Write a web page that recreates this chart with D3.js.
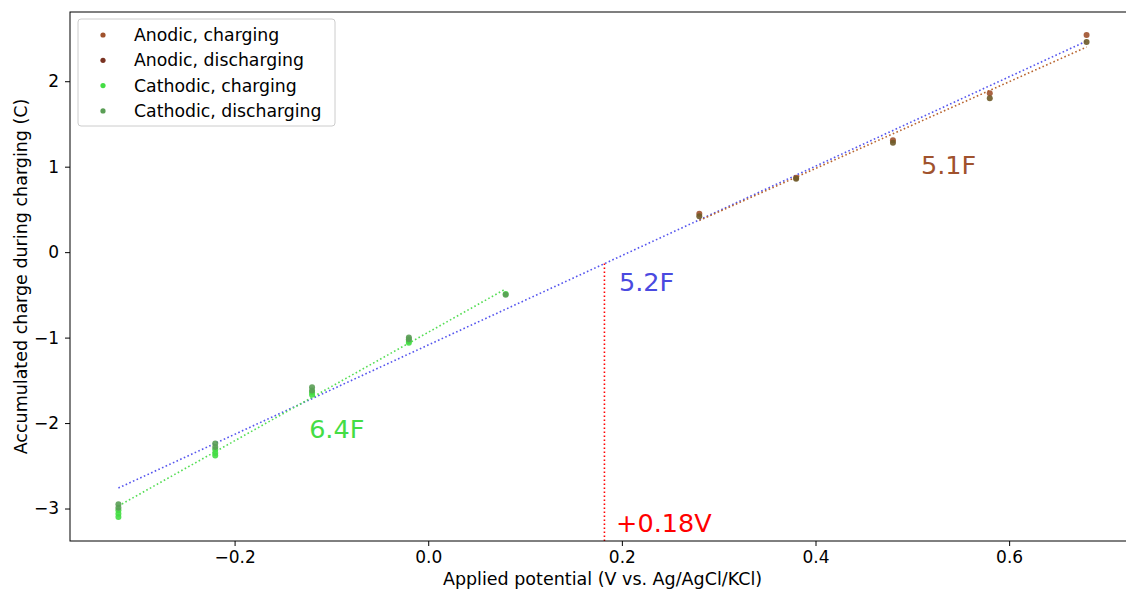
<!DOCTYPE html>
<html>
<head>
<meta charset="utf-8">
<script src="https://cdn.jsdelivr.net/npm/d3@7"></script>
<style>
  body { margin: 0; background: #fff; }
  svg { font-family: "DejaVu Sans", sans-serif; }
</style>
</head>
<body>
<svg id="chart" width="1126" height="589"></svg>
<script>
// potentials (V vs Ag/AgCl/KCl)
const cathodicX = [-0.32, -0.22, -0.12, -0.02, 0.08]
const anodicX = [0.28, 0.38, 0.48, 0.58, 0.68]

// accumulated charge (C), a few repeats per potential
const cathodicCharging = [[-3.02, -3.06, -3.10], [-2.31, -2.35, -2.38], [-1.64, -1.67], [-1.04, -1.06], [-0.49]]
const cathodicDischarging = [[-2.95, -2.99], [-2.24, -2.28], [-1.58, -1.62], [-1.00, -1.02], [-0.50]]
const anodicCharging = [[0.45], [0.87], [1.31], [1.86], [2.54]]
const anodicDischarging = [[0.42], [0.86], [1.28], [1.80], [2.46]]

// fit lines (end points)
const cathodicFit = [[-0.32, -2.97], [0.08, -0.43]]
const anodicFit = [[0.28, 0.37], [0.68, 2.40]]
const overallFit = [[-0.32, -2.76], [0.68, 2.47]]
const zeroCross = [[0.182, -3.38], [0.182, -0.13]]

const labels = [
  {text: '5.2F', x: 0.197, y: -0.46, color: '#4a4ae0'},
  {text: '6.4F', x: -0.123, y: -2.17, color: '#44dd44'},
  {text: '5.1F', x: 0.509, y: 0.91, color: '#a0522d'},
  {text: '+0.18V', x: 0.194, y: -3.27, color: '#ff0000'}
]

const xTicks = [-0.2, 0.0, 0.2, 0.4, 0.6]
const yTicks = [-3, -2, -1, 0, 1, 2]

const legendNames = ['Anodic, charging', 'Anodic, discharging', 'Cathodic, charging', 'Cathodic, discharging']
const legendColors = ['#a0522d', '#7a3322', '#44dd44', '#5a9e55']

const svg = d3.select('#chart')
const mLeft = 70, mRight = 1135, mTop = 12, mBottom = 541

const x = d3.scaleLinear().domain([-0.37, 0.73]).range([mLeft, mRight])
const y = d3.scaleLinear().domain([-3.38, 2.81]).range([mBottom, mTop])

const line = d3.line().x(d => x(d[0])).y(d => y(d[1]))

// fit lines
const fits = [
  {pts: overallFit, color: '#5555ee'},
  {pts: cathodicFit, color: '#55dd55'},
  {pts: anodicFit, color: '#b8642f'},
  {pts: zeroCross, color: '#ff0000'}
]
svg.selectAll('.fit')
  .data(fits)
  .join('path')
  .attr('class', 'fit')
  .attr('d', d => line(d.pts))
  .attr('fill', 'none')
  .attr('stroke', d => d.color)
  .attr('stroke-width', 1.6)
  .attr('stroke-dasharray', '1.6,2.4')

// points
function flat(xs, vals) {
  const out = []
  xs.forEach((xv, i) => vals[i].forEach(v => out.push([xv, v])))
  return out
}
const series = [
  {pts: flat(cathodicX, cathodicCharging), color: '#44dd44'},
  {pts: flat(cathodicX, cathodicDischarging), color: '#5a9e55'},
  {pts: flat(anodicX, anodicCharging), color: '#a0522d'},
  {pts: flat(anodicX, anodicDischarging), color: '#6e5a28'}
]
series.forEach((s, i) => {
  svg.selectAll('.pt' + i)
    .data(s.pts)
    .join('circle')
    .attr('class', 'pt' + i)
    .attr('cx', d => x(d[0]))
    .attr('cy', d => y(d[1]))
    .attr('r', 3)
    .attr('fill', s.color)
    .attr('opacity', 0.9)
})

// annotations
svg.selectAll('.ann')
  .data(labels)
  .join('text')
  .attr('class', 'ann')
  .attr('x', d => x(d.x))
  .attr('y', d => y(d.y))
  .attr('fill', d => d.color)
  .attr('font-size', 25.5)
  .text(d => d.text)

// axes
const xAxis = svg.append('g')
  .attr('transform', `translate(0,${mBottom})`)
  .call(d3.axisBottom(x).tickValues(xTicks).tickFormat(d3.format('.1f')).tickSizeOuter(0).tickSize(5).tickPadding(5))
const yAxis = svg.append('g')
  .attr('transform', `translate(${mLeft},0)`)
  .call(d3.axisLeft(y).tickValues(yTicks).tickFormat(d3.format('d')).tickSizeOuter(0).tickSize(5).tickPadding(6))
;[xAxis, yAxis].forEach(g => {
  g.selectAll('text').attr('font-size', 17).attr('fill', '#000').attr('font-family', '"DejaVu Sans", sans-serif')
  g.selectAll('.tick line').attr('stroke', '#000')
  g.select('.domain').remove()
})

// frame
svg.append('rect')
  .attr('x', mLeft).attr('y', mTop)
  .attr('width', mRight - mLeft).attr('height', mBottom - mTop)
  .attr('fill', 'none').attr('stroke', '#000').attr('stroke-width', 1)

svg.append('text')
  .attr('x', (mLeft + mRight) / 2).attr('y', 585)
  .attr('text-anchor', 'middle').attr('font-size', 17.5)
  .text('Applied potential (V vs. Ag/AgCl/KCl)')
svg.append('text')
  .attr('transform', `translate(27,${(mTop + mBottom) / 2}) rotate(-90)`)
  .attr('text-anchor', 'middle').attr('font-size', 17.5)
  .text('Accumulated charge during charging (C)')

// legend
const lg = svg.append('g').attr('transform', 'translate(78,19)')
lg.append('rect')
  .attr('width', 257).attr('height', 107).attr('rx', 3)
  .attr('fill', '#fff').attr('fill-opacity', 0.8)
  .attr('stroke', '#ccc')
const items = lg.selectAll('.item')
  .data(legendNames)
  .join('g')
  .attr('class', 'item')
  .attr('transform', (d, i) => `translate(0,${16 + i * 25.3})`)
items.append('circle').attr('cx', 25).attr('r', 2.6).attr('fill', (d, i) => legendColors[i])
items.append('text').attr('x', 56).attr('y', 6).attr('font-size', 17.3).attr('fill', '#000').text(d => d)
</script>
</body>
</html>
